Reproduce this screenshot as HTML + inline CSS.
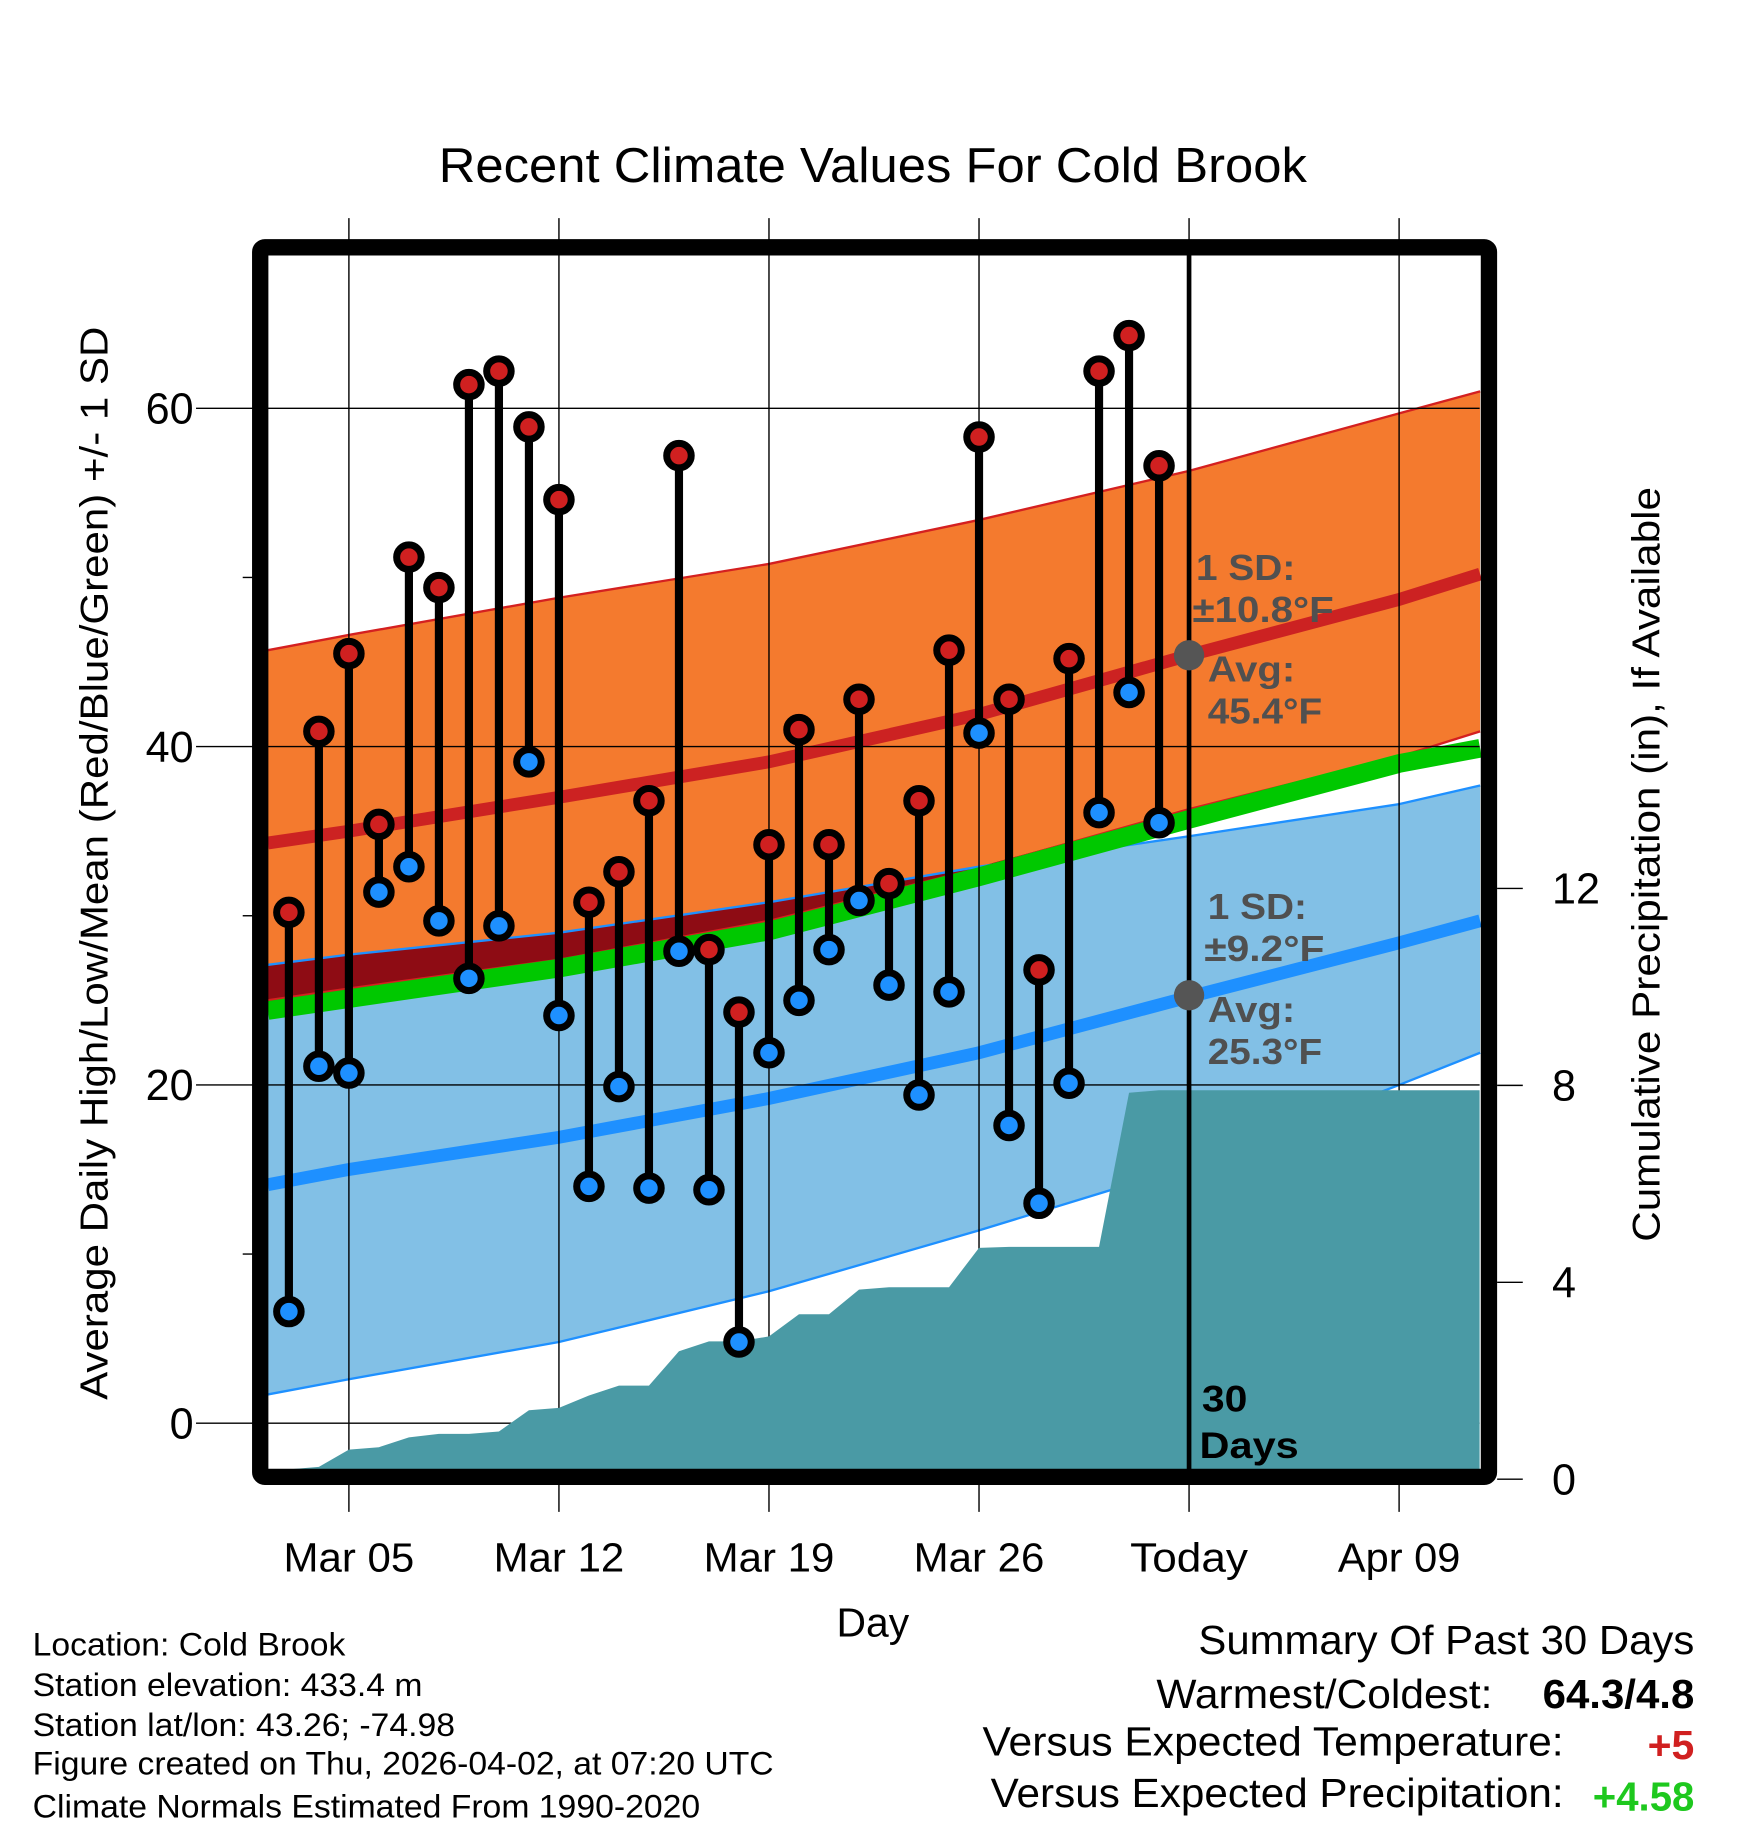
<!DOCTYPE html>
<html><head><meta charset="utf-8"><style>
html,body{margin:0;padding:0;background:#fff;}
svg{display:block;font-family:"Liberation Sans",Arial,sans-serif;}
</style></head><body>
<svg id="chart" width="1748" height="1828" viewBox="0 0 1498 1567" preserveAspectRatio="none" xmlns="http://www.w3.org/2000/svg">
<text x="748" y="156" font-size="42" text-anchor="middle" textLength="744" lengthAdjust="spacingAndGlyphs">Recent Climate Values For Cold Brook</text>
<g id="bands"></g>
<g id="grid"></g>
<g id="precip"></g>
<g id="lines"></g>
<g id="marks"></g>
<g id="frame"></g>
<g id="labels"></g>
</svg>
<script>
// ---- data ----
const days = [3,4,5,6,7,8,9,10,11,12,13,14,15,16,17,18,19,20,21,22,23,24,25,26,27,28,29,30,31,32];
const highs = [30.2,40.9,45.5,35.4,51.2,49.4,61.4,62.2,58.9,54.6,30.8,32.6,36.8,57.2,28.0,24.3,34.2,41.0,34.2,42.8,31.9,36.8,45.7,58.3,42.8,26.8,45.2,62.2,64.3,56.6];
const lows = [6.6,21.1,20.7,31.4,32.9,29.7,26.3,29.4,39.1,24.1,14.0,19.9,13.9,27.9,13.8,4.8,21.9,25.0,28.0,30.9,25.9,19.4,25.5,40.8,17.6,13.0,20.1,36.1,43.2,35.5];
const precip = [0.2,0.25,0.6,0.65,0.85,0.92,0.92,0.97,1.4,1.45,1.7,1.9,1.9,2.6,2.8,2.8,2.9,3.35,3.35,3.85,3.9,3.9,3.9,4.7,4.72,4.72,4.72,4.72,7.85,7.9];
const normDays = [2.3,5,12,19,26,33,40,42.7];
const hiUpper = [45.7,46.6,48.8,50.8,53.4,56.3,59.7,61.0];
const hiAvg = [34.3,35.0,37.0,39.1,41.9,45.4,48.7,50.2];
const hiLower = [25.0,25.7,27.4,29.7,32.8,36.3,39.4,40.9];
const loUpper = [27.1,27.7,29.0,30.8,32.9,34.7,36.6,37.7];
const meanNorm = [24.4,25.1,26.9,29.1,32.3,35.7,39.0,39.9];
const loAvg = [14.1,15.0,16.9,19.2,21.9,25.2,28.4,29.7];
const loLower = [1.7,2.6,4.8,7.8,11.4,15.2,20.0,21.9];
const xTickDays = [5,12,19,26,33,40];
const xTickLabels = ["Mar 05","Mar 12","Mar 19","Mar 26","Today","Apr 09"];
const xTickWidths = [112,112,112,112,101,105];
const yTicks = [0,20,40,60];
const yMinor = [10,30,50];
const pTicks = [0,4,8,12];
const todayDay = 33;

// ---- axes ----
const L=230,R=1268,T=213,B=1260;
const X = d => 299 + (d-5)*180/7;
const Y = v => 1220 - v*14.5;
const P = p => 1268 - p*42.2;
const NS="http://www.w3.org/2000/svg";
function mk(tag, parent, attrs){const e=document.createElementNS(NS,tag);for(const k in attrs)e.setAttribute(k,attrs[k]);parent.appendChild(e);return e;}
const g = id => document.getElementById(id);
const pts = arr => arr.map((v,i)=>X(normDays[i])+","+Y(v));
const band = (up,lo) => pts(up).concat(pts(lo).reverse()).join(" ");

let e;
e=mk("polygon",g("bands"),{points:band(hiUpper,hiLower),fill:"#f47a2e"});


e=mk("polygon",g("bands"),{points:band(loUpper,loLower),fill:"#82c0e6"});


const ovUp = loUpper.map((v,i)=>Math.max(Math.min(v,hiUpper[i]),hiLower[i]));
e=mk("polygon",g("bands"),{points:band(ovUp,hiLower),fill:"#8e0c14"});


e=mk("polyline",g("bands"),{points:pts(hiUpper).join(" "),fill:"none",stroke:"#d42020","stroke-width":2});


e=mk("polyline",g("bands"),{points:pts(hiLower).join(" "),fill:"none",stroke:"#d42020","stroke-width":2});


e=mk("polyline",g("bands"),{points:pts(loUpper).join(" "),fill:"none",stroke:"#1e90ff","stroke-width":2});


e=mk("polyline",g("bands"),{points:pts(loLower).join(" "),fill:"none",stroke:"#1e90ff","stroke-width":2});


e=mk("polyline",g("bands"),{points:pts(meanNorm).join(" "),fill:"none",stroke:"#00c800","stroke-width":16});


e=mk("polyline",g("bands"),{points:pts(hiAvg).join(" "),fill:"none",stroke:"#cc2222","stroke-width":11});


e=mk("polyline",g("bands"),{points:pts(loAvg).join(" "),fill:"none",stroke:"#1e90ff","stroke-width":11});



let pp=[L+","+B, L+","+P(precip[0])];
precip.forEach((p,i)=>{pp.push(X(days[i])+","+P(p));});
pp.push(R+","+P(precip[precip.length-1]));
pp.push(R+","+B);
e=mk("polygon",g("precip"),{points:pp.join(" "),fill:"#4a9aa5"});



xTickDays.forEach((d,i)=>{
  e=mk("line",g("grid"),{x1:X(d),x2:X(d),y1:187,y2:1296,stroke:"#000","stroke-width":1.2});
  
  
  e=mk("text",g("labels"),{x:X(d),y:1347,"font-size":35,"text-anchor":"middle",textLength:xTickWidths[i],lengthAdjust:"spacingAndGlyphs"});
  e.textContent=xTickLabels[i];
  
  
});
yTicks.forEach(v=>{
  e=mk("line",g("grid"),{x1:168,x2:R,y1:Y(v),y2:Y(v),stroke:"#000","stroke-width":1.2});
  
  
  e=mk("text",g("labels"),{x:166,y:Y(v)+13,"font-size":37,"text-anchor":"end"});
  e.textContent=v;
  
  
});
yMinor.forEach(v=>{
  e=mk("line",g("grid"),{x1:208,x2:218,y1:Y(v),y2:Y(v),stroke:"#000","stroke-width":1.2});
  
  
});
pTicks.forEach(p=>{
  e=mk("line",g("grid"),{x1:1283,x2:1305,y1:P(p),y2:P(p),stroke:"#000","stroke-width":1.2});
  
  
  e=mk("text",g("labels"),{x:1330,y:P(p)+13,"font-size":37,"text-anchor":"start"});
  e.textContent=p;
  
  
});

e=mk("line",g("lines"),{x1:X(todayDay),x2:X(todayDay),y1:T,y2:B,stroke:"#000","stroke-width":4});



days.forEach((d,i)=>{
  const x=X(d);
  e=mk("line",g("marks"),{x1:x,x2:x,y1:Y(highs[i]),y2:Y(lows[i]),stroke:"#000","stroke-width":7});
  
  
  e=mk("circle",g("marks"),{cx:x,cy:Y(highs[i]),r:10.5,fill:"#d02020",stroke:"#000","stroke-width":6});
  
  
  e=mk("circle",g("marks"),{cx:x,cy:Y(lows[i]),r:10.5,fill:"#1e90ff",stroke:"#000","stroke-width":6});
  
  
});

e=mk("circle",g("marks"),{cx:X(todayDay),cy:Y(45.4),r:13,fill:"#555"});


e=mk("circle",g("marks"),{cx:X(todayDay),cy:Y(25.3),r:13,fill:"#555"});



e=mk("rect",g("frame"),{x:223,y:212,width:1053,height:1054,fill:"none",stroke:"#000","stroke-width":14,rx:4});


</script>
<svg style="position:absolute;left:0;top:0" width="1748" height="1828" viewBox="0 0 1498 1567" preserveAspectRatio="none" xmlns="http://www.w3.org/2000/svg" font-family="Liberation Sans, Arial, sans-serif">
<g fill="#505050" font-weight="bold" font-size="31">
<text x="1025" y="497" textLength="85" lengthAdjust="spacingAndGlyphs">1 SD:</text>
<text x="1022" y="533" textLength="121" lengthAdjust="spacingAndGlyphs">±10.8°F</text>
<text x="1035" y="584" textLength="75" lengthAdjust="spacingAndGlyphs">Avg:</text>
<text x="1035" y="620" textLength="98" lengthAdjust="spacingAndGlyphs">45.4°F</text>
<text x="1035" y="788" textLength="85" lengthAdjust="spacingAndGlyphs">1 SD:</text>
<text x="1032" y="824" textLength="103" lengthAdjust="spacingAndGlyphs">±9.2°F</text>
<text x="1035" y="876" textLength="75" lengthAdjust="spacingAndGlyphs">Avg:</text>
<text x="1035" y="912" textLength="98" lengthAdjust="spacingAndGlyphs">25.3°F</text>
</g>
<g fill="#000" font-weight="bold" font-size="32">
<text x="1030" y="1210" textLength="39" lengthAdjust="spacingAndGlyphs">30</text>
<text x="1028" y="1250" textLength="85" lengthAdjust="spacingAndGlyphs">Days</text>
</g>
<text transform="translate(92,740) rotate(-90)" font-size="33" text-anchor="middle" textLength="920" lengthAdjust="spacingAndGlyphs">Average Daily High/Low/Mean (Red/Blue/Green) +/- 1 SD</text>
<text transform="translate(1422,741) rotate(-90)" font-size="33" text-anchor="middle" textLength="647" lengthAdjust="spacingAndGlyphs">Cumulative Precipitation (in), If Available</text>
<text x="748" y="1403" font-size="35" text-anchor="middle">Day</text>
<g font-size="28">
<text x="28" y="1419" textLength="268" lengthAdjust="spacingAndGlyphs">Location: Cold Brook</text>
<text x="28" y="1454" textLength="334" lengthAdjust="spacingAndGlyphs">Station elevation: 433.4 m</text>
<text x="28" y="1488" textLength="362" lengthAdjust="spacingAndGlyphs">Station lat/lon: 43.26; -74.98</text>
<text x="28" y="1521" textLength="635" lengthAdjust="spacingAndGlyphs">Figure created on Thu, 2026-04-02, at 07:20 UTC</text>
<text x="28" y="1558" textLength="572" lengthAdjust="spacingAndGlyphs">Climate Normals Estimated From 1990-2020</text>
</g>
<g font-size="35">
<text x="1027" y="1418" textLength="425" lengthAdjust="spacingAndGlyphs">Summary Of Past 30 Days</text>
<text x="991" y="1464" textLength="288" lengthAdjust="spacingAndGlyphs">Warmest/Coldest:</text>
<text x="1322" y="1464" font-weight="bold" textLength="130" lengthAdjust="spacingAndGlyphs">64.3/4.8</text>
<text x="842" y="1505" textLength="498" lengthAdjust="spacingAndGlyphs">Versus Expected Temperature:</text>
<text x="1412" y="1508" font-weight="bold" fill="#d02020" textLength="40" lengthAdjust="spacingAndGlyphs">+5</text>
<text x="849" y="1549" textLength="491" lengthAdjust="spacingAndGlyphs">Versus Expected Precipitation:</text>
<text x="1365" y="1552" font-weight="bold" fill="#1ec81e" textLength="87" lengthAdjust="spacingAndGlyphs">+4.58</text>
</g>
</svg>
</body></html>
